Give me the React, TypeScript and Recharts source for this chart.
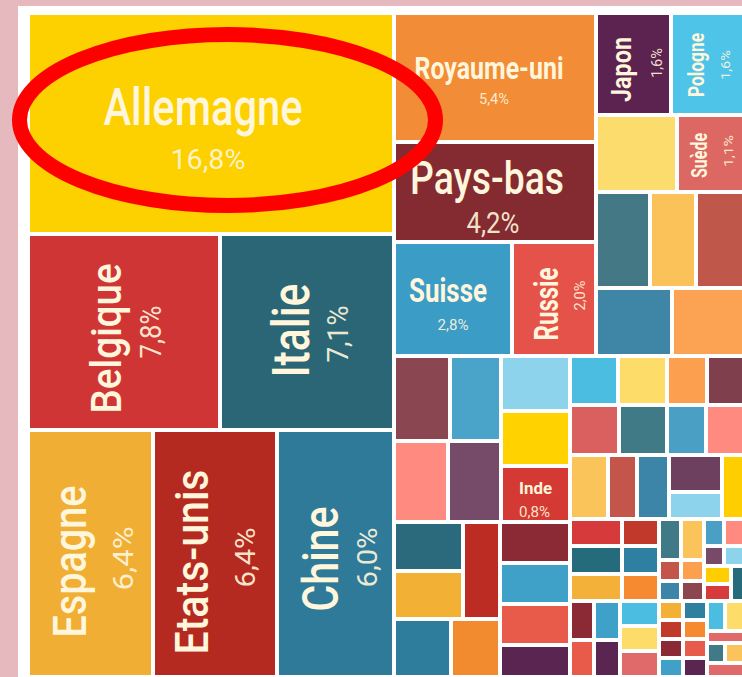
import React from "react";
import { Treemap } from "recharts";

// Labelled countries (share of exports, %)
const countries = [
  "Allemagne", "Belgique", "Italie", "Espagne", "Etats-unis", "Chine",
  "Royaume-uni", "Pays-bas", "Suisse", "Russie", "Japon", "Pologne", "Suède", "Inde",
];
const shares = [16.8, 7.8, 7.1, 6.4, 6.4, 6.0, 5.4, 4.2, 2.8, 2.0, 1.6, 1.6, 1.1, 0.8];
const countryColors = [
  "#fdd000", "#cf3535", "#2b6677", "#f0ae35", "#b52a20", "#2f7a98",
  "#f28c36", "#842a31", "#3b9cc6", "#e5524a", "#5d2350", "#4dc4e8", "#dd6763", "#d43a33",
];

// Unlabelled smaller partners (estimated shares, %)
const otherShares = [
  1.3, 1.08, 0.92, 1.0, 1.08, 1.05,
  1.0, 0.9, 0.905, 0.89, 0.79, 0.78,
  0.71, 0.7, 0.745, 0.686, 0.6, 0.595, 0.595, 0.59, 0.47,
  0.49, 0.5, 0.5, 0.5, 0.4, 0.4, 0.41, 0.42,
  0.5, 0.39, 0.42, 0.41, 0.3, 0.32,
  0.29, 0.3, 0.3, 0.21, 0.21, 0.21,
  0.2, 0.21, 0.19, 0.2, 0.2, 0.2, 0.21,
  0.19, 0.2, 0.096, 0.1, 0.091, 0.095,
  0.11, 0.118, 0.083, 0.089, 0.1, 0.098, 0.107,
  0.094, 0.094, 0.094, 0.094, 0.094, 0.094, 0.094, 0.094,
  0.112, 0.13, 0.097, 0.075, 0.087, 0.117,
];
const otherColors = [
  "#fbdc6c", "#447884", "#fbc25a", "#bf574b", "#3f85a5", "#fba352",
  "#8a4651", "#4aa3c8", "#ff8a80", "#764a69", "#8dd3ec", "#ffd200",
  "#2a6a7c", "#f2b134", "#bd2c22", "#2e7d9c", "#f28a30", "#8b2a35", "#3fa0c8", "#e85a4a", "#5a2550",
  "#4bbde0", "#fddc6a", "#d9605e", "#3f7a86", "#fca050", "#7f3f4c", "#4aa0c4", "#ff8a80",
  "#fbc45a", "#c4554a", "#3d85a8", "#6e4060", "#8dd3ec", "#ffce00",
  "#d63a3a", "#256b7c", "#f4b13a", "#c0392b", "#2e7fa0", "#f58a30",
  "#8b2a35", "#3fa0c8", "#e85a4a", "#5a2550", "#4bbde0", "#fddc6a", "#e06a6a",
  "#3f7a86", "#fbc45a", "#c4554a", "#fca050", "#3d85a8", "#8b4650",
  "#4aa0c4", "#ff8a80", "#774a6a", "#8dd3ec", "#ffce00", "#d63a3a", "#256b7c",
  "#f2b134", "#c0392b", "#2e7fa0", "#f58a30", "#8b2a35", "#3fa0c8", "#e85a4a", "#5a2550",
  "#4bbde0", "#fddc6a", "#e06a6a", "#3f7a86", "#fbc45a", "#e06a6a",
];

const C = (i: number) => ({ name: countries[i], value: shares[i], color: countryColors[i], leaf: true, labelled: true });
const O = (i: number) => ({ name: `autre ${i + 1}`, value: otherShares[i], color: otherColors[i], leaf: true, labelled: false });
const G = (...children: any[]) => ({ name: "", children });

const left = G(C(0), G(G(C(1), C(2)), G(G(C(3), C(4)), C(5))));
const col1 = G(C(6), G(C(7), G(C(8), C(9))));
const col2 = G(G(C(10), C(11)), G(G(O(0), C(12)), G(G(G(O(1), O(2)), O(3)), G(O(4), O(5)))));
const b1 = G(G(G(O(6), O(7)), G(O(8), O(9))), G(O(10), G(O(11), C(13))));
const b2 = G(G(G(G(O(12), O(13)), O(14)), G(O(15), O(16))), G(G(O(17), O(18)), G(O(19), O(20))));
const brTop = G(G(G(O(21), O(22)), G(O(23), O(24))), G(G(O(25), O(26)), G(O(27), O(28))));
const row3 = G(G(G(O(29), O(30)), O(31)), G(G(O(32), O(33)), O(34)));
const p1 = G(
  G(G(O(35), G(O(36), O(37))), G(O(38), G(O(39), O(40)))),
  G(G(G(O(41), O(42)), G(O(43), O(44))), G(O(45), G(O(46), O(47))))
);
const p2a = G(
  G(G(G(O(48), O(49)), G(O(50), O(51))), G(O(52), O(53))),
  G(G(G(O(54), O(55)), G(O(56), O(57))), G(G(O(58), O(59)), O(60)))
);
const p2b = G(
  G(G(G(O(61), O(62)), G(O(63), O(64))), G(G(O(65), O(66)), G(O(67), O(68)))),
  G(G(G(G(O(69), O(70)), O(71)), G(O(72), O(73))), O(74))
);
const right = G(G(col1, col2), G(G(b1, b2), G(brTop, G(row3, G(p1, G(p2a, p2b))))));
const treeData = [left, right];

// label styling per country: r = rotated, fs/len = name size/length, a/d offsets, w = weight, p* = percentage
const labelStyle: Record<string, any> = {
  "Allemagne": { r: 0, fs: 52, len: 199, a: -8, d: 1, w: 500, pfs: 28, plen: 75, pa: -3, pd: 45 },
  "Royaume-uni": { r: 0, fs: 31, len: 149, a: -6, d: 1, w: 700, pfs: 14, plen: 30, pa: -1, pd: 26 },
  "Pays-bas": { r: 0, fs: 46, len: 154, a: -8, d: 2, w: 500, pfs: 29, plen: 53, pa: -2, pd: 41 },
  "Suisse": { r: 0, fs: 33, len: 78, a: -5, d: 3, w: 700, pfs: 15, plen: 31, pa: 0, pd: 31 },
  "Inde": { r: 0, fs: 17, len: 33, a: 0, d: 0, w: 700, pfs: 15, plen: 31, pa: -1, pd: 23 },
  "Belgique": { r: 1, fs: 42, len: 150, a: -6.5, d: -3, w: 500, pfs: 29, plen: 53, pa: 0, pd: 37 },
  "Italie": { r: 1, fs: 51, len: 94, a: 1.5, d: 2, w: 500, pfs: 30, plen: 57, pa: -2, pd: 41 },
  "Espagne": { r: 1, fs: 46, len: 152, a: -8, d: -4.5, w: 500, pfs: 28, plen: 64, pa: -5, pd: 42 },
  "Etats-unis": { r: 1, fs: 47, len: 185, a: -8.5, d: -7, w: 500, pfs: 28, plen: 60, pa: -4, pd: 40 },
  "Chine": { r: 1, fs: 50, len: 105, a: -5.5, d: 2, w: 500, pfs: 28, plen: 60, pa: -4, pd: 41 },
  "Russie": { r: 1, fs: 34, len: 73, a: -5, d: 4, w: 700, pfs: 15, plen: 30, pa: 3.5, pd: 31 },
  "Japon": { r: 1, fs: 27, len: 65, a: -5.5, d: -2.5, w: 700, pfs: 15, plen: 30, pa: 1, pd: 28 },
  "Pologne": { r: 1, fs: 22, len: 64, a: -1, d: -5, w: 700, pfs: 13, plen: 30, pa: -1, pd: 21 },
  "Suède": { r: 1, fs: 22, len: 45, a: -2, d: -4.5, w: 700, pfs: 13, plen: 32, pa: 2.5, pd: 21.5 },
};

const FONT = "Roboto, 'Noto Sans', sans-serif";
const TEXT = "#fff6dc";

function TextAt(props: { x: number; y: number; rot: boolean; fs: number; len: number; weight: number; opacity?: number; children: string }) {
  const { x, y, rot, fs, len, weight, opacity, children } = props;
  return (
    <text
      x={x}
      y={y}
      transform={rot ? `rotate(-90 ${x} ${y})` : undefined}
      textAnchor="middle"
      fontFamily={FONT}
      fontSize={fs}
      fontWeight={weight}
      textLength={len}
      lengthAdjust="spacingAndGlyphs"
      fill={TEXT}
      fillOpacity={opacity ?? 1}
    >
      {children}
    </text>
  );
}

function renderTile(props: any) {
  const { x, y, width, height, leaf, labelled, color, name, value } = props;
  if (!leaf) return <g />;
  const cx = x + width / 2;
  const cy = y + height / 2;
  const st = labelled ? labelStyle[name] : null;
  const pct = `${Number(value).toFixed(1).replace(".", ",")}%`;
  let label = null;
  if (st) {
    const rot = !!st.r;
    const nx = rot ? cx + st.d : cx + st.a;
    const ny = rot ? cy - st.a : cy + st.d;
    const px = rot ? cx + st.pd : cx + st.pa;
    const py = rot ? cy - st.pa : cy + st.pd;
    label = (
      <g>
        <TextAt x={nx} y={ny} rot={rot} fs={st.fs} len={st.len} weight={st.w}>{name}</TextAt>
        <TextAt x={px} y={py} rot={rot} fs={st.pfs} len={st.plen} weight={400} opacity={0.92}>{pct}</TextAt>
      </g>
    );
  }
  return (
    <g>
      <rect x={x + 2} y={y + 2} width={Math.max(0, width - 4)} height={Math.max(0, height - 4)} fill={color} />
      {label}
    </g>
  );
}

export default function App() {
  return (
    <div
      style={{
        position: "fixed",
        left: 0,
        top: 0,
        width: 742,
        height: 677,
        overflow: "hidden",
        background: "#e5b9bd",
      }}
    >
      <div style={{ position: "absolute", left: 18, top: 6, width: 760, height: 700, background: "#ffffff" }} />
      <div style={{ position: "absolute", left: 28, top: 13 }}>
        <Treemap
          width={718}
          height={664}
          data={treeData}
          dataKey="value"
          nameKey="name"
          aspectRatio={1}
          type="flat"
          isAnimationActive={false}
          content={renderTile as any}
        />
      </div>
      <svg
        width={742}
        height={677}
        style={{ position: "absolute", left: 0, top: 0, pointerEvents: "none" }}
      >
        <ellipse cx={227.5} cy={120} rx={208} ry={85.5} fill="none" stroke="#ff0000" strokeWidth={15} />
      </svg>
    </div>
  );
}
